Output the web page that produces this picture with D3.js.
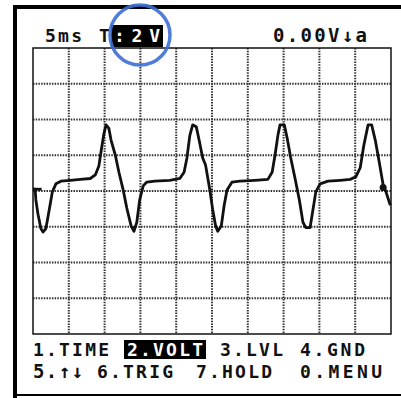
<!DOCTYPE html>
<html>
<head>
<meta charset="utf-8">
<script src="https://cdn.jsdelivr.net/npm/d3@7"></script>
<style>
  body { margin: 0; background: #fff; }
  svg text { font-family: "DejaVu Sans Mono", monospace; font-size: 18px; font-weight: bold; }
</style>
</head>
<body>
<svg width="401" height="398"></svg>
<script>
// waveform: time in ms (5 ms/div), volts (2 V/div)
const timeMs = [0, 0.3, 0.4, 0.7, 1.1, 1.4, 1.8, 2.2, 2.7, 3.2, 3.9, 5.2, 6.6, 8.0, 8.7, 9.2, 9.5, 9.9, 10.2, 10.6,
  10.9, 11.5, 12.0, 12.6, 13.1, 13.7, 14.1, 14.5, 14.9, 15.4, 15.9, 17.0, 19.1, 20.5, 21.1, 21.5, 21.9, 22.3, 22.8, 23.2,
  23.7, 24.1, 24.7, 25.1, 25.5, 25.8, 26.3, 26.7, 27.1, 27.8, 28.9, 31.0, 32.8, 33.4, 33.8, 34.2, 34.5, 35.1, 35.5, 36.0,
  36.6, 37.2, 37.7, 38.1, 38.7, 39.1, 39.5, 40.1, 41.2, 42.9, 44.3, 45.1, 45.7, 46.2, 46.8, 47.3, 47.8, 48.3, 48.9, 49.3, 49.9];
const volts = [0.1, 0.1, -0.5, -1.3, -2.1, -2.3, -2.1, -1.2, -0.05, 0.4, 0.55, 0.6, 0.65, 0.7, 0.9, 1.4, 2.2, 3.2, 3.7, 3.5,
  2.85, 2.0, 1.05, 0.05, -0.95, -1.95, -2.25, -1.75, -0.5, 0.3, 0.5, 0.55, 0.6, 0.7, 1.05, 1.85, 3.1, 3.7, 3.6, 2.85,
  1.85, 1.45, 0.05, -1.05, -1.95, -2.25, -1.95, -0.8, 0.05, 0.5, 0.55, 0.6, 0.65, 1.05, 2.0, 3.1, 3.7, 3.7, 2.95, 1.85,
  0.7, -0.5, -1.75, -2.05, -2.05, -1.05, -0.05, 0.4, 0.55, 0.6, 0.65, 0.8, 1.3, 2.55, 3.7, 3.7, 2.85, 1.75, 0.35, -0.05, -0.8];

const timeDivs = [0, 5, 10, 15, 20, 25, 30, 35, 40, 45, 50];
const voltDivs = [-8, -6, -4, -2, 0, 2, 4, 6, 8];

const headerLabels = [
  {text: "5ms", x: 45, w: 37},
  {text: "T", x: 99, w: 12},
  {text: ":2V", x: 114, w: 46, hi: true},
  {text: "0.00V\u2193a", x: 273, w: 94}
];
const menuRow1 = [
  {text: "1.TIME", x: 33, w: 76},
  {text: "2.VOLT", x: 127, w: 76, hi: true},
  {text: "3.LVL", x: 220, w: 63},
  {text: "4.GND", x: 300, w: 65}
];
const menuRow2 = [
  {text: "5.\u2191\u2193", x: 33, w: 50},
  {text: "6.TRIG", x: 97, w: 76},
  {text: "7.HOLD", x: 196, w: 76},
  {text: "0.MENU", x: 300, w: 82}
];

const svg = d3.select("svg");
const plot = {left: 33, right: 391, top: 48, bottom: 334};

const x = d3.scaleLinear().domain([0, 50]).range([plot.left, plot.right]);
const y = d3.scaleLinear().domain([-8, 8]).range([plot.bottom, plot.top]);

// outer screen frame
svg.append("path")
    .attr("d", `M15,398 L15,7 L401,7`)
    .attr("fill", "none").attr("stroke", "#000").attr("stroke-width", 4);
svg.append("line")
    .attr("x1", 15).attr("x2", 401).attr("y1", 395).attr("y2", 395)
    .attr("stroke", "#000").attr("stroke-width", 2);

// dotted graticule
const grid = svg.append("g")
    .attr("stroke", "#333").attr("stroke-width", 2).attr("stroke-dasharray", "1.5,1.2");
grid.selectAll("line.v")
    .data(timeDivs.slice(1, -1))
    .enter().append("line")
    .attr("x1", d => x(d)).attr("x2", d => x(d))
    .attr("y1", plot.top).attr("y2", plot.bottom);
grid.selectAll("line.h")
    .data(voltDivs.slice(1, -1))
    .enter().append("line")
    .attr("x1", plot.left).attr("x2", plot.right)
    .attr("y1", d => y(d)).attr("y2", d => y(d));

svg.append("rect")
    .attr("x", plot.left).attr("y", plot.top)
    .attr("width", plot.right - plot.left).attr("height", plot.bottom - plot.top)
    .attr("fill", "none").attr("stroke", "#111").attr("stroke-width", 1.5);

// trace
const line = d3.line()
    .x((d, i) => x(timeMs[i]))
    .y(d => y(d));
svg.append("path")
    .attr("d", line(volts))
    .attr("fill", "none")
    .attr("stroke", "#111")
    .attr("stroke-width", 2.8)
    .attr("stroke-linejoin", "round");

// ground marker stub on the left, trigger dot on the right
svg.append("line")
    .attr("x1", x(0)).attr("x2", x(1.2))
    .attr("y1", y(0.1)).attr("y2", y(0.1))
    .attr("stroke", "#111").attr("stroke-width", 2.8);
svg.append("circle")
    .attr("cx", x(48.9)).attr("cy", y(0.2)).attr("r", 3.5).attr("fill", "#111");

function drawLabels(items, baseline, boxTop, boxH) {
  items.forEach(d => {
    if (d.hi) {
      svg.append("rect")
          .attr("x", d.x - 3).attr("y", boxTop)
          .attr("width", d.w + 6).attr("height", boxH)
          .attr("fill", "#000");
    }
    svg.append("text")
        .attr("x", d.x).attr("y", baseline)
        .attr("textLength", d.w).attr("lengthAdjust", "spacing")
        .attr("fill", d.hi ? "#fff" : "#111")
        .style("font-size", /[\u2191\u2193]/.test(d.text) ? "19px" : null)
        .text(d.text);
  });
}
drawLabels(headerLabels, 42, 25, 22);
drawLabels(menuRow1, 356, 340, 19);
drawLabels(menuRow2, 378, 0, 0);

// highlight ring around the volt setting
svg.append("circle")
    .attr("cx", 140).attr("cy", 35).attr("r", 30)
    .attr("fill", "none")
    .attr("stroke", "#3d6fd4")
    .attr("stroke-width", 3.5)
    .attr("opacity", 0.9);
</script>
</body>
</html>
